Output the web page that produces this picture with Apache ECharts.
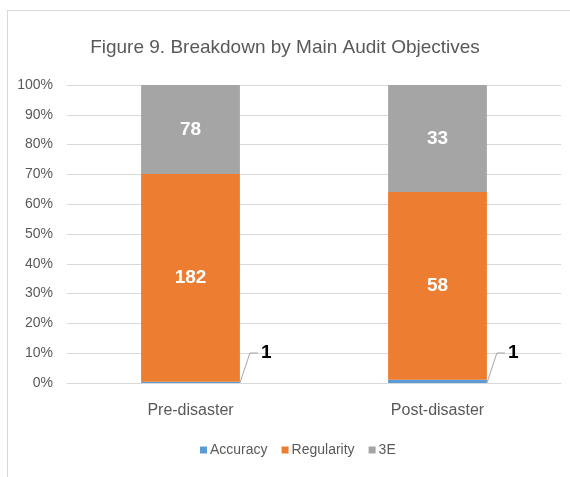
<!DOCTYPE html>
<html>
<head>
<meta charset="utf-8">
<script src="https://cdn.jsdelivr.net/npm/echarts@6/dist/echarts.min.js"></script>
<style>
    html, body { margin: 0; padding: 0; background: #fff; overflow: hidden; }
    .frame {
        position: absolute;
        left: 7px;
        top: 10px;
        width: 600px;
        height: 500px;
        border: 1px solid #d9d9d9;
    }
    #main { position: absolute; left: 0; top: 0; width: 570px; height: 477px; }
</style>
</head>
<body>
<div class="frame"></div>
<div id="main"></div>
<script>
const categories = ['Pre-disaster', 'Post-disaster'];
const accuracy = [1, 1];
const regularity = [182, 58];
const threeE = [78, 33];
const yTicks = [0, 10, 20, 30, 40, 50, 60, 70, 80, 90, 100];

const totals = categories.map((c, i) => accuracy[i] + regularity[i] + threeE[i]);
const pct = (arr) => arr.map((v, i) => ({ value: v / totals[i] * 100, count: v }));

const font = "'Liberation Sans', Arial, sans-serif";

// 小数值的引线标签 (accuracy)
function renderCallout(params, api) {
    const base = api.coord([api.value(0), 0]);
    const bw = api.size([1, 0])[0] * 0.4;
    const x0 = base[0] + bw / 2;
    const y0 = base[1];
    return {
        type: 'group',
        children: [
            {
                type: 'polyline',
                shape: { points: [[x0, y0], [x0 + 10, y0 - 30], [x0 + 18, y0 - 30]] },
                style: { stroke: '#a6a6a6', lineWidth: 1, fill: null }
            },
            {
                type: 'text',
                x: x0 + 21,
                y: y0 - 30,
                style: {
                    text: String(api.value(1)),
                    fill: '#000',
                    font: 'bold 19px ' + font,
                    textAlign: 'left',
                    textVerticalAlign: 'middle'
                }
            }
        ]
    };
}

let Chart = echarts.init(document.getElementById('main'));
let options = {
    animation: false,
    textStyle: { fontFamily: font },
    title: {
        text: 'Figure 9. Breakdown by Main Audit Objectives',
        left: 'center',
        top: 33,
        textStyle: { fontSize: 19, fontWeight: 'normal', color: '#595959', fontFamily: font }
    },
    grid: { left: 67, right: 9, top: 85, bottom: 94 },
    legend: {
        data: ['Accuracy', 'Regularity', '3E'],
        bottom: 15,
        left: 195,
        icon: 'rect',
        itemWidth: 7,
        itemHeight: 7,
        itemGap: 14,
        textStyle: { fontSize: 14, color: '#595959', fontFamily: font, padding: [0, 0, 0, -2] }
    },
    xAxis: {
        type: 'category',
        data: categories,
        axisTick: { show: false },
        axisLine: { lineStyle: { color: '#d9d9d9' } },
        axisLabel: { fontSize: 16, color: '#595959', margin: 20, fontFamily: font }
    },
    yAxis: {
        type: 'value',
        min: yTicks[0],
        max: yTicks[yTicks.length - 1],
        interval: 10,
        axisLabel: { formatter: '{value}%', fontSize: 14, color: '#595959', margin: 14, fontFamily: font },
        splitLine: { lineStyle: { color: '#d9d9d9' } }
    },
    series: [
        {
            name: 'Accuracy',
            type: 'bar',
            stack: 'total',
            barCategoryGap: '60%',
            data: pct(accuracy),
            itemStyle: { color: '#5B9BD5' }
        },
        {
            name: 'Regularity',
            type: 'bar',
            stack: 'total',
            data: pct(regularity),
            itemStyle: { color: '#ED7D31' },
            label: {
                show: true,
                formatter: (p) => p.data.count,
                fontSize: 19,
                fontWeight: 'bold',
                color: '#fff',
                fontFamily: font
            }
        },
        {
            name: '3E',
            type: 'bar',
            stack: 'total',
            data: pct(threeE),
            itemStyle: { color: '#A5A5A5' },
            label: {
                show: true,
                formatter: (p) => p.data.count,
                fontSize: 19,
                fontWeight: 'bold',
                color: '#fff',
                fontFamily: font
            }
        },
        {
            name: 'AccuracyLabel',
            type: 'custom',
            renderItem: renderCallout,
            data: accuracy.map((v, i) => [i, v]),
            silent: true,
            z: 5
        }
    ]
};
Chart.setOption(options);
</script>
</body>
</html>
